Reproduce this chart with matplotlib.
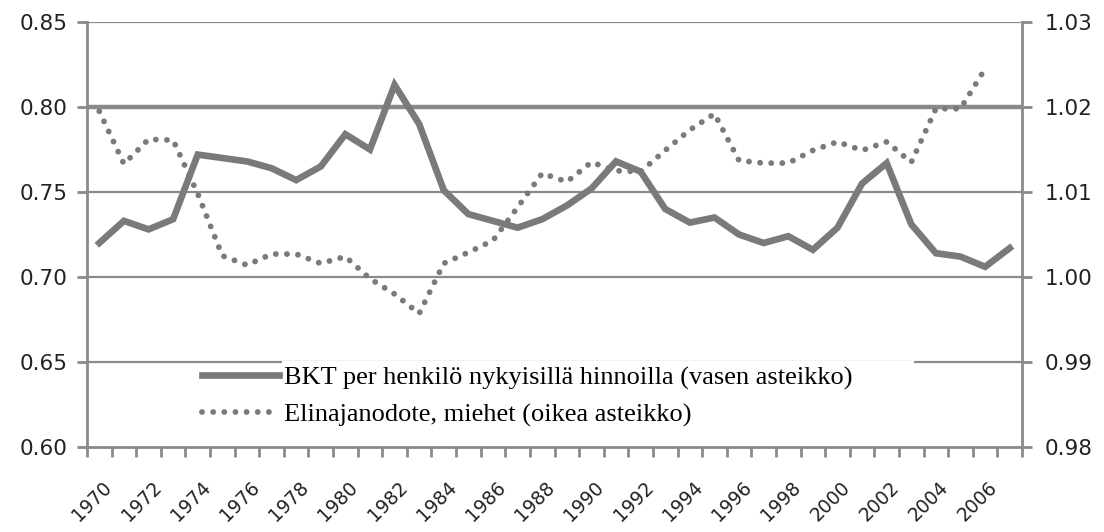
import matplotlib
matplotlib.use("Agg")
import matplotlib.pyplot as plt
import matplotlib.transforms as mtransforms
import numpy as np
from matplotlib.patches import Rectangle
from matplotlib.ticker import FixedLocator, FormatStrFormatter

# data
years = list(range(1970, 2008))
bkt = [0.720, 0.733, 0.728, 0.734, 0.772, 0.770, 0.768, 0.764, 0.757, 0.765,
       0.784, 0.775, 0.813, 0.790, 0.751, 0.737, 0.733, 0.729, 0.734, 0.742,
       0.752, 0.768, 0.762, 0.740, 0.732, 0.735, 0.725, 0.720, 0.724, 0.716,
       0.729, 0.755, 0.767, 0.731, 0.714, 0.712, 0.706, 0.717]
elinaika = [1.0195, 1.0133, 1.0162, 1.0161, 1.0098, 1.0025, 1.0014, 1.0027, 1.0027, 1.0016,
            1.0024, 0.9998, 0.9980, 0.9957, 1.0016, 1.0029, 1.0043, 1.0082, 1.0122, 1.0112,
            1.0135, 1.0125, 1.0124, 1.0149, 1.0173, 1.0192, 1.0137, 1.0134, 1.0134, 1.0149,
            1.0159, 1.0149, 1.0159, 1.0135, 1.0198, 1.0198, 1.0245]
left_ticks = [0.60, 0.65, 0.70, 0.75, 0.80, 0.85]
right_ticks = [0.98, 0.99, 1.00, 1.01, 1.02, 1.03]
label_bkt = "BKT per henkilö nykyisillä hinnoilla (vasen asteikko)"
label_el = "Elinajanodote, miehet (oikea asteikko)"

GRAY = "#7a7a7a"
GRID = "#8a8a8a"
TXT = "#222222"

fig = plt.figure(figsize=(11.04, 5.32), dpi=100)
ax = fig.add_axes([87 / 1104, 1 - 447 / 532, (1022 - 87) / 1104, (447 - 22) / 532])
ax2 = ax.twinx()

x = np.arange(len(years))

# gridlines (0.80 drawn heavier as in the reference)
for t in left_ticks[1:]:
    ax.axhline(t, color=GRID, lw=3.2 if abs(t - 0.80) < 1e-9 else 1.6, zorder=0)

# white legend area that hides part of the 0.65 gridline
ax.add_patch(Rectangle((0.2086, 0.03), 0.676, 0.172, transform=ax.transAxes,
                       facecolor="white", edgecolor="none", zorder=1))

l1, = ax.plot(x, bkt, color=GRAY, lw=4.8, solid_joinstyle="miter", zorder=3)
l2, = ax2.plot(x[:len(elinaika)], elinaika, color=GRAY, lw=4.2,
               linestyle=(0, (0.01, 1.9)), dash_capstyle="round", zorder=3)

ax.set_xlim(-0.5, len(years) - 0.5)
ax.set_ylim(0.60, 0.85)
ax2.set_ylim(0.98, 1.03)

ax.yaxis.set_major_locator(FixedLocator(left_ticks))
ax.yaxis.set_major_formatter(FormatStrFormatter("%.2f"))
ax2.yaxis.set_major_locator(FixedLocator(right_ticks))
ax2.yaxis.set_major_formatter(FormatStrFormatter("%.2f"))

ax.set_xticks(x[::2])
ax.set_xticklabels([str(y) for y in years[::2]], rotation=45, ha="right",
                   va="center", rotation_mode="anchor")
ax.set_xticks(np.arange(-0.5, len(years)), minor=True)

for a in (ax, ax2):
    for s in a.spines.values():
        s.set_visible(False)
ax.spines["left"].set_visible(True)
ax.spines["bottom"].set_visible(True)
ax2.spines["right"].set_visible(True)
for s in (ax.spines["left"], ax.spines["bottom"], ax2.spines["right"]):
    s.set_color(GRID)
    s.set_linewidth(2.0)

ax.tick_params(axis="y", length=7, width=2, color=GRID, labelsize=15.5, pad=7,
               labelcolor=TXT)
ax2.tick_params(axis="y", length=7, width=2, color=GRID, labelsize=15.5, pad=9,
                labelcolor=TXT)
ax.tick_params(axis="x", which="major", length=0, labelsize=13.5, pad=27,
               labelcolor=TXT)
ax.tick_params(axis="x", which="minor", length=7, width=2, color=GRID)
shift = mtransforms.ScaledTranslation(7 / 72, 0, fig.dpi_scale_trans)
for lbl in ax.get_xticklabels():
    lbl.set_transform(lbl.get_transform() + shift)

leg = ax2.legend([l1, l2], [label_bkt, label_el], loc="upper left",
                 bbox_to_anchor=(0.123, 0.19), frameon=False,
                 handlelength=2.9, handletextpad=0.2, labelspacing=0.48,
                 borderpad=0, borderaxespad=0,
                 prop={"family": "Liberation Serif", "size": 19})

fig.savefig("out.png", dpi=100)
